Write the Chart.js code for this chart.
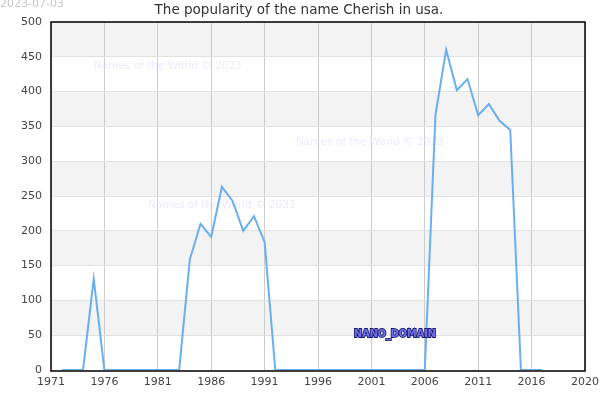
<!DOCTYPE html>
<html>
<head>
<meta charset="utf-8">
<script src="https://cdn.jsdelivr.net/npm/chart.js@4/dist/chart.umd.min.js"></script>
<style>
  html, body { margin: 0; padding: 0; background: #fff; }
  #wrap { width: 600px; height: 400px; }
</style>
</head>
<body>
<div id="wrap"><canvas id="lineChart" width="600" height="400"></canvas></div>
<script>
// data
var years = [1972, 1973, 1974, 1975, 1976, 1977, 1978, 1979, 1980, 1981, 1982, 1983,
             1984, 1985, 1986, 1987, 1988, 1989, 1990, 1991, 1992, 1993, 1994, 1995,
             1996, 1997, 1998, 1999, 2000, 2001, 2002, 2003, 2004, 2005, 2006,
             2007, 2008, 2009, 2010, 2011, 2012, 2013, 2014, 2015, 2016, 2017];
var births = [0, 0, 0, 131, 0, 0, 0, 0, 0, 0, 0, 0,
              159, 210, 191, 263, 243, 200, 221, 184, 0, 0, 0, 0,
              0, 0, 0, 0, 0, 0, 0, 0, 0, 0, 0,
              367, 460, 402, 418, 366, 382, 358, 345, 0, 0, 0];
var xTicks = [1971, 1976, 1981, 1986, 1991, 1996, 2001, 2006, 2011, 2016, 2021];
var xTickLabels = ['1971', '1976', '1981', '1986', '1991', '1996', '2001', '2006', '2011', '2016', '2020'];
var chartTitle = 'The popularity of the name Cherish in usa.';
var dateStamp = '2023-07-03';
var watermark = 'Names of the World \u00a9 2023';

var FONT = '"DejaVu Sans", sans-serif';

var points = years.map(function (y, i) { return { x: y, y: births[i] }; });

// gray bands, watermark and frame
var decor = {
	id: 'decor',
	beforeDraw: function (chart) {
		var ctx = chart.ctx, a = chart.chartArea, ys = chart.scales.y;
		ctx.save();
		ctx.fillStyle = '#f3f3f3';
		for (var v = 50; v < 500; v += 100) {
			var top = ys.getPixelForValue(v + 50), bot = ys.getPixelForValue(v);
			ctx.fillRect(a.left, top, a.right - a.left, bot - top);
		}
		ctx.restore();
	},
	beforeDatasetsDraw: function (chart) {
		var ctx = chart.ctx, a = chart.chartArea;
		ctx.save();
		ctx.strokeStyle = '#000';
		ctx.lineWidth = 1.5;
		ctx.strokeRect(a.left, a.top, a.right - a.left, a.bottom - a.top + 1);

		ctx.font = '10.5px ' + FONT;
		ctx.fillStyle = 'rgba(225,225,255,0.7)';
		ctx.textBaseline = 'middle';
		ctx.fillText(watermark, 94, 66);
		ctx.fillText(watermark, 296, 142);
		ctx.fillText(watermark, 148, 205);
		ctx.restore();
	},
	afterDraw: function (chart) {
		var ctx = chart.ctx;
		ctx.save();
		ctx.font = '13.5px ' + FONT;
		ctx.fillStyle = '#333';
		ctx.textAlign = 'center';
		ctx.textBaseline = 'middle';
		ctx.fillText(chartTitle, 299, 10);

		ctx.font = '11px ' + FONT;
		ctx.fillStyle = '#c8c8c8';
		ctx.textAlign = 'left';
		ctx.fillText(dateStamp, 0, 4);

		ctx.font = 'bold 9.7px ' + FONT;
		ctx.textAlign = 'center';
		ctx.lineWidth = 1.8;
		ctx.strokeStyle = '#1c1c7a';
		ctx.strokeText('NANO_DOMAIN', 395, 334);
		ctx.fillStyle = '#7070e0';
		ctx.fillText('NANO_DOMAIN', 395, 334);
		ctx.restore();
	}
};

var config = {
	type: 'line',
	data: {
		datasets: [{
			data: points,
			borderColor: '#6aaef0',
			borderWidth: 2,
			pointRadius: 0,
			tension: 0,
			fill: false
		}]
	},
	options: {
		responsive: false,
		animation: false,
		layout: { padding: { left: 0, right: 15, top: 22, bottom: 0 } },
		plugins: { legend: { display: false }, title: { display: false }, tooltip: { enabled: false } },
		scales: {
			x: {
				type: 'linear',
				min: 1971,
				max: 2021,
				afterBuildTicks: function (scale) {
					scale.ticks = xTicks.map(function (v) { return { value: v }; });
				},
				afterFit: function (scale) {
					scale.height = 30;
					scale.paddingLeft = 0;
					scale.paddingRight = 0;
				},
				grid: { color: '#cccccc', drawTicks: false },
				border: { display: false },
				ticks: {
					autoSkip: false,
					maxRotation: 0,
					padding: 6,
					color: '#444',
					font: { family: FONT, size: 11 },
					callback: function (v) {
						var i = xTicks.indexOf(v);
						return i >= 0 ? xTickLabels[i] : '';
					}
				}
			},
			y: {
				min: 0,
				max: 500,
				afterFit: function (scale) { scale.width = 51; },
				grid: { color: '#e2e2e2', drawTicks: false },
				border: { display: false },
				ticks: {
					stepSize: 50,
					padding: 9,
					color: '#444',
					font: { family: FONT, size: 11 }
				}
			}
		}
	},
	plugins: [decor]
};

var lineChart = new Chart(document.getElementById('lineChart').getContext('2d'), config);
</script>
</body>
</html>
